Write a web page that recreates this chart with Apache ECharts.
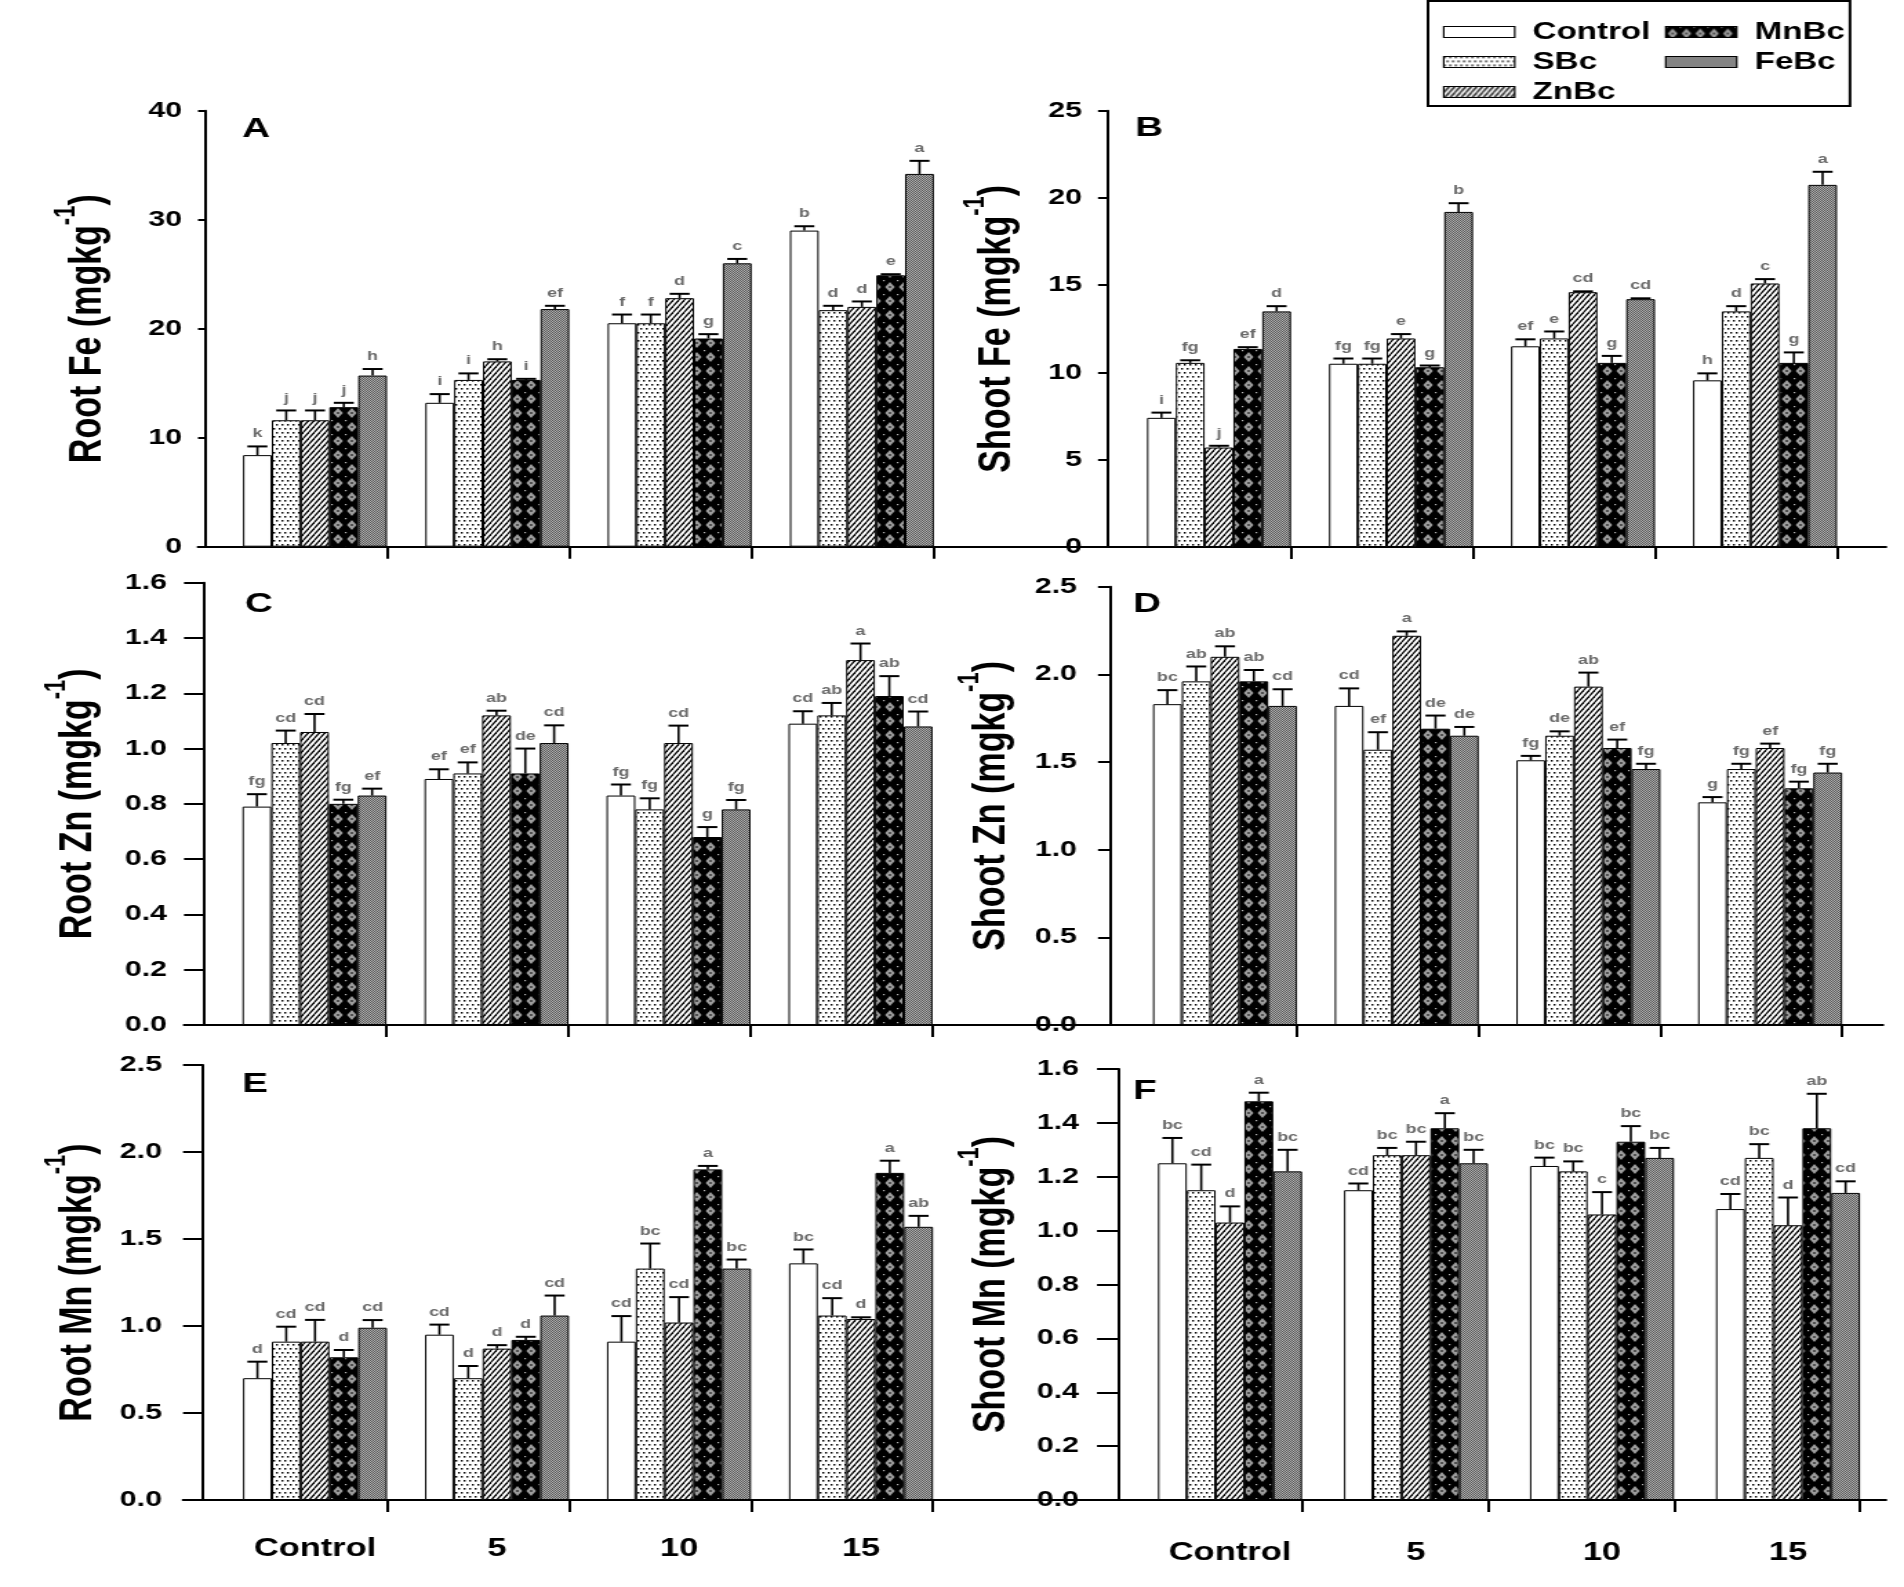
<!DOCTYPE html>
<html>
<head>
<meta charset="utf-8">
<title>Root and shoot Fe, Zn and Mn</title>
<script src="https://cdn.jsdelivr.net/npm/echarts@6.0.0/dist/echarts.min.js"></script>
<style>
  html, body { margin: 0; padding: 0; background: #fff; overflow: hidden; }
  /* the source figure is stretched sideways, so the chart is drawn narrow and widened */
  #chart { width: 1380px; height: 1587px; transform: scaleX(1.37971); transform-origin: 0 0; }
</style>
</head>
<body>
<div id="chart"></div>
<script>
// ---------- data (rows: treatments, columns: groups) ----------
const groups = ['Control', '5', '10', '15'];
const treatments = ['Control', 'SBc', 'ZnBc', 'MnBc', 'FeBc'];

const rootFeMean = [[8.4, 13.2, 20.5, 29.0], [11.6, 15.3, 20.5, 21.7], [11.6, 17.0, 22.8, 22.0], [12.8, 15.3, 19.1, 24.9], [15.7, 21.8, 26.0, 34.2]];
const rootFeErr = [[0.8, 0.8, 0.8, 0.4], [0.9, 0.6, 0.8, 0.4], [0.9, 0.2, 0.4, 0.5], [0.4, 0.1, 0.4, 0.1], [0.6, 0.3, 0.4, 1.2]];
const rootFeLetters = [['k', 'i', 'f', 'b'], ['j', 'i', 'f', 'd'], ['j', 'h', 'd', 'd'], ['j', 'i', 'g', 'e'], ['h', 'ef', 'c', 'a']];

const shootFeMean = [[7.4, 10.5, 11.5, 9.55], [10.55, 10.5, 11.95, 13.5], [5.7, 11.95, 14.6, 15.1], [11.35, 10.3, 10.55, 10.55], [13.5, 19.2, 14.2, 20.75]];
const shootFeErr = [[0.3, 0.3, 0.4, 0.4], [0.15, 0.3, 0.4, 0.3], [0.1, 0.25, 0.05, 0.25], [0.1, 0.1, 0.4, 0.6], [0.3, 0.5, 0.05, 0.75]];
const shootFeLetters = [['i', 'fg', 'ef', 'h'], ['fg', 'fg', 'e', 'd'], ['j', 'e', 'cd', 'c'], ['ef', 'g', 'g', 'g'], ['d', 'b', 'cd', 'a']];

const rootZnMean = [[0.79, 0.89, 0.83, 1.09], [1.02, 0.91, 0.78, 1.12], [1.06, 1.12, 1.02, 1.32], [0.80, 0.91, 0.68, 1.19], [0.83, 1.02, 0.78, 1.08]];
const rootZnErr = [[0.045, 0.035, 0.04, 0.045], [0.045, 0.04, 0.04, 0.045], [0.065, 0.017, 0.063, 0.06], [0.015, 0.09, 0.036, 0.072], [0.025, 0.064, 0.034, 0.054]];
const rootZnLetters = [['fg', 'ef', 'fg', 'cd'], ['cd', 'ef', 'fg', 'ab'], ['cd', 'ab', 'cd', 'a'], ['fg', 'de', 'g', 'ab'], ['ef', 'cd', 'fg', 'cd']];

const shootZnMean = [[1.83, 1.82, 1.51, 1.27], [1.96, 1.57, 1.65, 1.46], [2.10, 2.22, 1.93, 1.58], [1.96, 1.69, 1.58, 1.35], [1.82, 1.65, 1.46, 1.44]];
const shootZnErr = [[0.08, 0.1, 0.025, 0.03], [0.085, 0.1, 0.025, 0.03], [0.06, 0.025, 0.08, 0.025], [0.065, 0.075, 0.048, 0.038], [0.095, 0.05, 0.03, 0.05]];
const shootZnLetters = [['bc', 'cd', 'fg', 'g'], ['ab', 'ef', 'de', 'fg'], ['ab', 'a', 'ab', 'ef'], ['ab', 'de', 'ef', 'fg'], ['cd', 'de', 'fg', 'fg']];

const rootMnMean = [[0.70, 0.95, 0.91, 1.36], [0.91, 0.70, 1.33, 1.06], [0.91, 0.87, 1.02, 1.04], [0.82, 0.92, 1.90, 1.88], [0.99, 1.06, 1.33, 1.57]];
const rootMnErr = [[0.095, 0.058, 0.147, 0.08], [0.086, 0.07, 0.144, 0.1], [0.125, 0.02, 0.146, 0.01], [0.042, 0.018, 0.02, 0.07], [0.044, 0.115, 0.052, 0.063]];
const rootMnLetters = [['d', 'cd', 'cd', 'bc'], ['cd', 'd', 'bc', 'cd'], ['cd', 'd', 'cd', 'd'], ['d', 'd', 'a', 'a'], ['cd', 'cd', 'bc', 'ab']];

const shootMnMean = [[1.25, 1.15, 1.24, 1.08], [1.15, 1.28, 1.22, 1.27], [1.03, 1.28, 1.06, 1.02], [1.48, 1.38, 1.33, 1.38], [1.22, 1.25, 1.27, 1.14]];
const shootMnErr = [[0.094, 0.025, 0.031, 0.056], [0.095, 0.027, 0.037, 0.051], [0.06, 0.05, 0.083, 0.103], [0.032, 0.056, 0.058, 0.128], [0.08, 0.05, 0.037, 0.043]];
const shootMnLetters = [['bc', 'cd', 'bc', 'cd'], ['cd', 'bc', 'bc', 'bc'], ['d', 'bc', 'c', 'd'], ['a', 'a', 'bc', 'ab'], ['bc', 'bc', 'bc', 'cd']];

const yTitles = ['Root Fe', 'Shoot Fe', 'Root Zn', 'Shoot Zn', 'Root Mn', 'Shoot Mn'];
const yMax = [40, 25, 1.6, 2.5, 2.5, 1.6];
const yStep = [10, 5, 0.2, 0.5, 0.5, 0.2];
const yDecimals = [0, 0, 1, 1, 1, 1];

const means = [rootFeMean, shootFeMean, rootZnMean, shootZnMean, rootMnMean, shootMnMean];
const errs = [rootFeErr, shootFeErr, rootZnErr, shootZnErr, rootMnErr, shootMnErr];
const letters = [rootFeLetters, shootFeLetters, rootZnLetters, shootZnLetters, rootMnLetters, shootMnLetters];

// ---------- layout (page pixels of the 1904 px wide figure) ----------
const SX = 1904 / 1380;
const sx = v => v / SX;
const FONT = '"Liberation Sans", Arial, sans-serif';
const TAG_FONT = '"Liberation Sans Narrow", "Liberation Sans", Arial, sans-serif';
const BAR_W = sx(28.8);
const HALF_GROUP = 72;
const CAP = sx(10);

const panels = [
  { tag: 'A', axisX: 205, tick: 7, lineStart: 198, lineEnd: 955, top: 110.7, zero: 546.7, c0: 315, step: 182.3, margin: 23, nameEdge: 107, tagX: 242, tagY: 115 },
  { tag: 'B', axisX: 1107, tick: 9, lineStart: 952, lineEnd: 1886, top: 110.7, zero: 547, c0: 1219, step: 182, margin: 25, nameEdge: 1017, tagX: 1135, tagY: 114 },
  { tag: 'C', axisX: 204, tick: 20, lineStart: 184, lineEnd: 955, top: 582.7, zero: 1025, c0: 314.5, step: 182, margin: 37, nameEdge: 98, tagX: 245, tagY: 590 },
  { tag: 'D', axisX: 1110, tick: 12, lineStart: 952, lineEnd: 1883, top: 586.7, zero: 1025, c0: 1225, step: 181.7, margin: 33, nameEdge: 1011, tagX: 1133, tagY: 590 },
  { tag: 'E', axisX: 203, tick: 20, lineStart: 183, lineEnd: 955, top: 1065, zero: 1500, c0: 315, step: 182, margin: 41, nameEdge: 98, tagX: 242, tagY: 1070, labels: true, labelMargin: 37 },
  { tag: 'F', axisX: 1119, tick: 22, lineStart: 952, lineEnd: 1886, top: 1069, zero: 1500, c0: 1230, step: 186, margin: 40, nameEdge: 1011, tagX: 1133, tagY: 1077, labels: true, labelMargin: 41 }
];

// ---------- fill patterns ----------
function tile(w, h, draw) {
  const c = document.createElement('canvas');
  c.width = w; c.height = h;
  draw(c.getContext('2d'), w, h);
  return { image: c, repeat: 'repeat' };
}
const patterns = [
  '#ffffff',
  tile(4, 8, (ctx, w, h) => {
    ctx.fillStyle = '#fff'; ctx.fillRect(0, 0, w, h);
    ctx.fillStyle = '#000';
    ctx.fillRect(0, 0, 1.4, 1.6); ctx.fillRect(2, 4, 1.4, 1.6);
  }),
  tile(4, 6, (ctx, w, h) => {
    ctx.fillStyle = '#fff'; ctx.fillRect(0, 0, w, h);
    ctx.strokeStyle = '#000'; ctx.lineWidth = 1.3;
    [-w, 0, w].forEach(o => { ctx.beginPath(); ctx.moveTo(o, h); ctx.lineTo(o + w, 0); ctx.stroke(); });
  }),
  tile(10, 14, (ctx, w, h) => {
    ctx.fillStyle = '#000'; ctx.fillRect(0, 0, w, h);
    ctx.fillStyle = '#9c9c9c';
    ctx.beginPath(); ctx.moveTo(5, 2); ctx.lineTo(8.5, 7); ctx.lineTo(5, 12); ctx.lineTo(1.5, 7); ctx.closePath(); ctx.fill();
    ctx.fillStyle = '#000'; ctx.fillRect(4.3, 6.3, 1.4, 1.4);
    ctx.fillStyle = '#bbb'; ctx.fillRect(0, 0, 1.2, 1.2);
  }),
  tile(2, 2, (ctx) => {
    ctx.fillStyle = '#b0b0b0'; ctx.fillRect(0, 0, 2, 2);
    ctx.fillStyle = '#585858'; ctx.fillRect(0, 0, 1, 1); ctx.fillRect(1, 1, 1, 1);
  })
];

// ---------- build option ----------
const grid = [], xAxis = [], yAxis = [], series = [], graphic = [];

panels.forEach((p, i) => {
  grid.push({
    left: sx(p.lineStart), top: p.top,
    width: sx(p.lineEnd - p.lineStart), height: p.zero - p.top,
    containLabel: false, outerBoundsMode: 'none'
  });

  const tickOffset = HALF_GROUP / p.step;
  xAxis.push({
    type: 'value', gridIndex: i,
    min: (p.lineStart - p.c0) / p.step,
    max: (p.lineEnd - p.c0) / p.step,
    axisLine: { show: true, onZero: false, lineStyle: { color: '#000', width: 2 } },
    axisTick: { show: true, length: 12, lineStyle: { color: '#000', width: 2 },
      customValues: groups.map((g, k) => k + tickOffset) },
    axisLabel: p.labels ? {
      show: true, customValues: groups.map((g, k) => k),
      formatter: v => groups[Math.round(v)],
      margin: p.labelMargin, fontSize: 25, fontWeight: 'bold', color: '#000', fontFamily: FONT
    } : { show: false },
    splitLine: { show: false }
  });

  yAxis.push({
    type: 'value', gridIndex: i,
    min: 0, max: yMax[i], interval: yStep[i],
    offset: -sx(p.axisX - p.lineStart),
    axisLine: { show: true, onZero: false, lineStyle: { color: '#000', width: 2 } },
    axisTick: { show: true, inside: false, length: sx(p.tick), lineStyle: { color: '#000', width: 2 } },
    axisLabel: {
      margin: sx(p.margin), fontSize: 22, fontWeight: 'bold', color: '#000', fontFamily: FONT,
      formatter: v => v.toFixed(yDecimals[i])
    },
    splitLine: { show: false },
    name: '{t|' + yTitles[i] + ' (mgkg}{s|-1}{t|)}',
    nameLocation: 'middle',
    nameGap: sx(p.axisX - p.nameEdge) - 3,
    nameTextStyle: {
      color: '#000',
      rich: {
        t: { fontSize: 34, fontWeight: 'bold', fontFamily: FONT, color: '#000', lineHeight: 44, verticalAlign: 'bottom' },
        s: { fontSize: 22, fontWeight: 'bold', fontFamily: FONT, color: '#000', lineHeight: 24, verticalAlign: 'top' }
      }
    }
  });

  treatments.forEach((t, ti) => {
    series.push({
      type: 'bar', name: t, xAxisIndex: i, yAxisIndex: i,
      barWidth: BAR_W, barGap: '0%',
      itemStyle: { color: patterns[ti], borderColor: '#000', borderWidth: 1 },
      data: means[i][ti].map((v, g) => [g, v]),
      silent: true
    });
  });

  const errData = [];
  treatments.forEach((t, ti) => {
    groups.forEach((g, gi) => errData.push([gi, ti, means[i][ti][gi], errs[i][ti][gi]]));
  });
  series.push({
    type: 'custom', xAxisIndex: i, yAxisIndex: i, z: 5, silent: true,
    data: errData,
    renderItem: (params, api) => {
      const gi = api.value(0), ti = api.value(1), mean = api.value(2), err = api.value(3);
      const base = api.coord([gi, mean]);
      const top = api.coord([gi, mean + err]);
      const x = base[0] + (ti - 2) * BAR_W;
      return {
        type: 'group',
        children: [
          { type: 'line', shape: { x1: x, y1: base[1], x2: x, y2: top[1] }, style: { stroke: '#000', lineWidth: 1.6 } },
          { type: 'line', shape: { x1: x - CAP, y1: top[1], x2: x + CAP, y2: top[1] }, style: { stroke: '#000', lineWidth: 2 } },
          { type: 'text', style: {
              text: letters[i][ti][gi], x: x, y: top[1] - 6,
              align: 'center', verticalAlign: 'bottom',
              fill: '#6a6a6a', fontSize: 13, fontWeight: 'bold', fontFamily: FONT } }
        ]
      };
    }
  });

  graphic.push({
    type: 'text', x: sx(p.tagX), y: p.tagY, silent: true,
    style: { text: p.tag, fontSize: 28, fontWeight: 'bold', fontFamily: TAG_FONT, fill: '#000', verticalAlign: 'top' }
  });
});

// legend frame
graphic.push({
  type: 'rect', silent: true,
  shape: { x: sx(1428), y: 1, width: sx(422), height: 105 },
  style: { fill: 'none', stroke: '#000', lineWidth: 2 }
});

const legendCommon = {
  orient: 'vertical', top: 12, itemGap: 0,
  itemWidth: sx(71), itemHeight: 11, icon: 'rect', selectedMode: false,
  itemStyle: { borderColor: '#000', borderWidth: 1.2 },
  textStyle: { fontSize: 24, fontWeight: 'bold', fontFamily: FONT, color: '#000', lineHeight: 30, padding: [0, 0, 0, 8] }
};

const chart = echarts.init(document.getElementById('chart'));
chart.setOption({
  backgroundColor: '#ffffff',
  animation: false,
  textStyle: { fontFamily: FONT },
  legend: [
    Object.assign({}, legendCommon, { data: ['Control', 'SBc', 'ZnBc'], left: sx(1436) }),
    Object.assign({}, legendCommon, { data: ['MnBc', 'FeBc'], left: sx(1658) })
  ],
  grid: grid,
  xAxis: xAxis,
  yAxis: yAxis,
  series: series,
  graphic: graphic
});
</script>
</body>
</html>
